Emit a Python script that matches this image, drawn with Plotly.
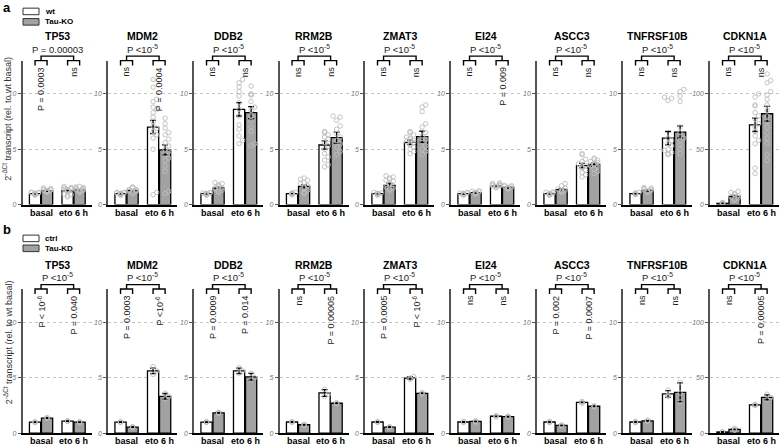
import plotly.graph_objects as go

W, H = 779, 447
FONT = "Liberation Sans, Arial, sans-serif"

# ---------------- data ----------------
genes = ["TP53", "MDM2", "DDB2", "RRM2B", "ZMAT3", "EI24", "ASCC3", "TNFRSF10B", "CDKN1A"]
conditions = ["basal", "eto 6 h"]
yticks_std = [0, 5, 10]
yticks_cdkn = [0, 50, 100]
ymax_std = 13
ymax_cdkn = 130

P5 = "P <10<sup>-5</sup>"

# row a : wt vs Tau-KO
a_groups = ["wt", "Tau-KO"]
a_wt_basal = [1.0, 1.0, 1.0, 1.0, 1.0, 0.99, 1.0, 0.99, 1.2]
a_wt_eto = [1.25, 7.0, 8.6, 5.38, 5.62, 1.68, 3.52, 6.0, 72]
a_ko_basal = [1.25, 1.25, 1.5, 1.64, 1.73, 1.08, 1.35, 1.28, 7.4]
a_ko_eto = [1.32, 4.95, 8.3, 6.05, 6.13, 1.55, 3.62, 6.55, 82]
a_wt_basal_sem = [0.03, 0.03, 0.03, 0.03, 0.03, 0.03, 0.03, 0.03, 0.15]
a_wt_eto_sem = [0.05, 0.6, 0.6, 0.38, 0.2, 0.05, 0.2, 0.6, 6]
a_ko_basal_sem = [0.04, 0.05, 0.08, 0.15, 0.2, 0.04, 0.06, 0.05, 1.0]
a_ko_eto_sem = [0.04, 0.45, 0.55, 0.5, 0.5, 0.05, 0.15, 0.55, 6.7]

a_pts_wt_basal = [
    [0.85, 0.9, 0.92, 0.95, 0.97, 1.0, 1.0, 1.02, 1.05, 1.08, 1.1, 0.95, 1.0, 0.9, 1.12],
    [0.85, 0.9, 0.95, 1.0, 1.0, 1.05, 1.1, 0.95, 1.0, 1.05, 0.9, 1.1],
    [0.85, 0.9, 0.95, 1.0, 1.0, 1.05, 1.1, 0.95, 1.0, 1.05],
    [0.9, 0.95, 1.0, 1.0, 1.05, 1.1, 0.92, 1.02, 0.98],
    [0.85, 0.9, 0.95, 1.0, 1.0, 1.05, 1.1, 0.95, 1.02],
    [0.85, 0.9, 0.95, 1.0, 1.0, 1.05, 1.1, 1.05],
    [0.85, 0.9, 0.95, 1.0, 1.0, 1.05, 1.1, 1.15],
    [0.9, 0.95, 1.0, 1.0, 1.05, 1.1, 0.95],
    [0.8, 1.0, 1.2, 1.4, 1.5, 1.7, 2.0],
]
a_pts_ko_basal = [
    [1.1, 1.15, 1.2, 1.22, 1.25, 1.28, 1.3, 1.35, 1.4, 1.45, 1.5, 1.2, 1.3, 1.25],
    [1.0, 1.1, 1.2, 1.25, 1.3, 1.35, 1.4, 1.5, 1.55, 1.6, 1.2, 1.3],
    [1.1, 1.2, 1.3, 1.4, 1.5, 1.6, 1.7, 1.8, 1.9, 2.0, 1.5],
    [1.0, 1.1, 1.3, 1.5, 1.7, 1.9, 2.0, 2.2, 2.3, 2.4, 1.6],
    [1.3, 1.4, 1.5, 1.6, 1.8, 1.9, 2.1, 2.2, 2.3, 2.4, 2.5, 2.6],
    [0.95, 1.0, 1.05, 1.1, 1.15, 1.2, 1.25, 1.1],
    [1.1, 1.2, 1.25, 1.3, 1.4, 1.5, 1.7, 1.9],
    [1.1, 1.2, 1.3, 1.35, 1.4, 1.45, 1.5, 1.55],
    [4, 5, 6, 7, 8, 9, 10, 11, 12],
]
a_pts_wt_eto = [
    [0.7, 0.85, 0.9, 0.95, 1.2, 1.25, 1.3, 1.35, 1.4, 1.45, 1.5, 1.3, 1.4, 1.55, 1.65],
    [0.9, 1.1, 5.0, 6.0, 6.3, 6.6, 6.9, 7.1, 7.5, 7.9, 8.3, 8.6, 8.8, 9.3, 9.5, 10.6, 11.3],
    [5.5, 5.8, 6.2, 6.8, 7.2, 8.0, 8.6, 9.2, 9.8, 10.2, 10.6, 11.0, 11.3],
    [3.4, 3.6, 4.0, 4.3, 4.6, 5.0, 5.3, 5.6, 5.9, 6.1, 6.3, 6.5, 6.6],
    [4.6, 4.8, 5.0, 5.2, 5.4, 5.5, 5.6, 5.7, 5.8, 5.9, 6.0, 6.1, 6.3, 6.5, 6.6],
    [1.5, 1.6, 1.65, 1.7, 1.75, 1.8, 1.85, 1.9, 1.95, 1.7],
    [2.5, 2.7, 2.9, 3.1, 3.3, 3.5, 3.7, 3.9, 4.1, 4.5, 4.6, 3.4],
    [4.5, 4.6, 4.7, 4.9, 5.0, 5.3, 5.5, 5.8, 6.0, 9.4, 9.6, 9.7],
    [28, 33, 55, 58, 62, 66, 70, 73, 77, 80, 83, 89, 90, 97, 100],
]
a_pts_ko_eto = [
    [1.1, 1.15, 1.2, 1.25, 1.3, 1.35, 1.4, 1.45, 1.5, 1.55, 1.6, 1.65, 1.3, 1.25],
    [1.0, 1.2, 3.0, 3.5, 4.0, 4.2, 4.5, 4.8, 5.0, 5.3, 5.6, 5.9, 6.3, 6.5, 6.9, 7.3, 7.8],
    [5.3, 5.5, 6.6, 7.0, 7.6, 8.0, 8.5, 8.8, 9.3, 9.9, 9.9, 10.0, 10.7],
    [4.5, 4.8, 5.2, 5.5, 5.8, 6.1, 6.4, 6.8, 7.1, 7.6, 7.9, 8.0],
    [4.5, 4.8, 5.0, 5.3, 5.6, 5.9, 6.2, 6.5, 7.0, 7.3, 8.4, 8.8, 9.0],
    [1.4, 1.45, 1.5, 1.55, 1.6, 1.65, 1.7, 1.75, 1.55],
    [2.8, 3.0, 3.2, 3.4, 3.5, 3.6, 3.7, 3.8, 3.9, 4.0, 4.1, 4.2, 3.6],
    [4.6, 5.0, 5.4, 5.8, 6.0, 6.5, 7.0, 9.3, 9.8, 10.2, 10.4],
    [40, 45, 55, 60, 65, 70, 75, 80, 85, 90, 95, 99, 102, 110, 112, 118],
]
a_p_top = ["P = 0.00003", P5, P5, P5, P5, P5, P5, P5, P5]
a_p_basal = ["P = 0.0003", "ns", "ns", "ns", "ns", "ns", "ns", "ns", "ns"]
a_p_eto = ["ns", "P = 0.0004", "ns", "ns", "ns", "P = 0.009", "ns", "ns", "ns"]

# row b : ctrl vs Tau-KD
b_groups = ["ctrl", "Tau-KD"]
b_ctrl_basal = [0.99, 0.99, 0.99, 1.0, 1.0, 1.0, 1.0, 1.0, 1.0]
b_ctrl_eto = [1.08, 5.62, 5.62, 3.62, 4.96, 1.52, 2.78, 3.53, 25.4]
b_kd_basal = [1.35, 0.54, 1.82, 0.75, 0.54, 1.05, 0.69, 1.1, 3.3]
b_kd_eto = [0.99, 3.32, 5.08, 2.69, 3.59, 1.48, 2.42, 3.68, 32.3]
b_ctrl_basal_sem = [0.03, 0.03, 0.03, 0.03, 0.03, 0.03, 0.03, 0.03, 0.1]
b_ctrl_eto_sem = [0.02, 0.25, 0.25, 0.3, 0.12, 0.04, 0.05, 0.3, 0.5]
b_kd_basal_sem = [0.04, 0.03, 0.04, 0.03, 0.03, 0.03, 0.03, 0.04, 0.6]
b_kd_eto_sem = [0.03, 0.25, 0.3, 0.04, 0.06, 0.04, 0.05, 0.85, 2.2]

b_pts_ctrl_basal = [[0.95, 0.99, 1.03], [0.96, 1.0, 1.02], [0.95, 1.0, 1.03], [0.97, 1.0, 1.03],
                    [0.96, 1.0, 1.04], [0.96, 1.0, 1.04], [0.95, 1.0, 1.05], [0.95, 1.0, 1.05], [0.8, 1.0, 1.2]]
b_pts_kd_basal = [[1.3, 1.35, 1.4], [0.5, 0.54, 0.58], [1.78, 1.82, 1.87], [0.72, 0.75, 0.78],
                  [0.5, 0.54, 0.58], [1.0, 1.05, 1.1], [0.65, 0.69, 0.73], [1.05, 1.1, 1.16], [2.5, 3.3, 4.3]]
b_pts_ctrl_eto = [[1.05, 1.08, 1.11], [5.3, 5.6, 6.0], [5.4, 5.6, 5.9], [3.3, 3.5, 3.95],
                  [4.85, 4.95, 5.1], [1.45, 1.52, 1.58], [2.7, 2.78, 2.85], [3.3, 3.4, 3.9], [24.8, 25.4, 26]]
b_pts_kd_eto = [[0.95, 0.99, 1.03], [3.1, 3.3, 3.6], [4.8, 5.0, 5.4], [2.65, 2.69, 2.73],
                [3.53, 3.59, 3.65], [1.44, 1.48, 1.52], [2.37, 2.42, 2.47], [2.8, 3.6, 4.6], [30, 32, 35]]
b_p_top = [P5] * 9
b_p_basal = ["P < 10<sup>-6</sup>", "P = 0.0003", "P = 0.0009", "ns", "P = 0.0005", "ns", "P = 0.002", "ns", "ns"]
b_p_eto = ["P = 0.040", "P <10<sup>-6</sup>", "P = 0.014", "P = 0.00005", "P < 10<sup>-6</sup>",
           "ns", "P = 0.0007", "ns", "P = 0.00005"]

ylabel = "2<sup>-ΔCt</sup> transcript (rel. to wt basal)"

# ---------------- layout helpers ----------------
left_px = [22.5, 108, 194, 279.5, 365, 451, 537, 623, 710]
panel_w = 69
XR = [-0.57, 1.55]
BARGAP = 0.26
GROUPGAP = 0.07
OFF = (1 - BARGAP) / 4
WHITE = "white"
GREY = "#a2a2a2"
PX_PER_X = panel_w / (XR[1] - XR[0])

rows = [
    dict(top=61, bottom=206, title_y=36, letter="a", letter_y=7.5, ylab_y=120, leg_y=[11.5, 22],
         groups=a_groups,
         m=[a_wt_basal, a_wt_eto, a_ko_basal, a_ko_eto],
         s=[a_wt_basal_sem, a_wt_eto_sem, a_ko_basal_sem, a_ko_eto_sem],
         p=[a_pts_wt_basal, a_pts_wt_eto, a_pts_ko_basal, a_pts_ko_eto],
         sig=[a_p_top, a_p_basal, a_p_eto]),
    dict(top=291, bottom=436, title_y=266.5, letter="b", letter_y=231, ylab_y=345, leg_y=[240, 250],
         groups=b_groups,
         m=[b_ctrl_basal, b_ctrl_eto, b_kd_basal, b_kd_eto],
         s=[b_ctrl_basal_sem, b_ctrl_eto_sem, b_kd_basal_sem, b_kd_eto_sem],
         p=[b_pts_ctrl_basal, b_pts_ctrl_eto, b_pts_kd_basal, b_pts_kd_eto],
         sig=[b_p_top, b_p_basal, b_p_eto]),
]


def py(p):
    return 1 - p / H


def swarm(values, center, px_y, half_px=5.0, diam=4.2):
    """deterministic beeswarm layout: horizontal offsets so markers don't overlap"""
    step = diam * 0.85
    cands = [0.0]
    n = 1
    while n * step <= half_px + 1e-9:
        cands += [n * step, -n * step]
        n += 1
    placed = []
    out = [center] * len(values)
    for j in sorted(range(len(values)), key=lambda q: values[q]):
        ypx = values[j] * px_y
        best, bestc = cands[0], None
        for c in cands:
            col = sum(1 for (qx, qy) in placed if (qx - c) ** 2 + (qy - ypx) ** 2 < diam ** 2)
            if col == 0:
                best = c
                break
            if bestc is None or col < bestc:
                bestc, best = col, c
        placed.append((best, ypx))
        out[j] = center + best / PX_PER_X
    return out


fig = go.Figure()
axes = {}
shapes = []
annotations = []

k = 0
for row in rows:
    hpx = row["bottom"] - row["top"]
    d = 1.0 / hpx  # one pixel in domain units
    for i, gene in enumerate(genes):
        k += 1
        xa = "x" if k == 1 else f"x{k}"
        ya = "y" if k == 1 else f"y{k}"
        xkey = "xaxis" if k == 1 else f"xaxis{k}"
        ykey = "yaxis" if k == 1 else f"yaxis{k}"
        cd = gene == "CDKN1A"
        ymax = ymax_cdkn if cd else ymax_std
        yt = yticks_cdkn if cd else yticks_std
        px_y = hpx / ymax

        axes[xkey] = dict(domain=[left_px[i] / W, (left_px[i] + panel_w) / W], range=XR, anchor=ya,
                          showline=True, linecolor="black", linewidth=1.5, ticks="",
                          showticklabels=False, showgrid=False, zeroline=False, fixedrange=True)
        axes[ykey] = dict(domain=[py(row["bottom"]), py(row["top"])], range=[0, ymax], anchor=xa,
                          showline=True, linecolor="#555", linewidth=1.5, ticks="outside", ticklen=3,
                          tickwidth=1, tickcolor="#555", tickvals=yt, ticktext=[str(v) for v in yt],
                          tickfont=dict(size=7, family=FONT, color="#777", style="italic"),
                          showgrid=True, gridcolor="#c4c4c4", griddash="dot", gridwidth=1, zeroline=False,
                          fixedrange=True)

        m, s, p = row["m"], row["s"], row["p"]
        for j, color in enumerate([WHITE, GREY]):
            mb, me = m[2 * j], m[2 * j + 1]
            sb, se = s[2 * j], s[2 * j + 1]
            fig.add_bar(x=[0, 1], y=[mb[i], me[i]], xaxis=xa, yaxis=ya, showlegend=False,
                        marker=dict(color=color, line=dict(color="black", width=1.3)),
                        error_y=dict(type="data", array=[sb[i], se[i]], color="black",
                                     thickness=1.3, width=3))
        for j, sign in enumerate([-1, 1]):
            pb, pe = p[2 * j][i], p[2 * j + 1][i]
            xs = swarm(pb, 0 + sign * OFF, px_y) + swarm(pe, 1 + sign * OFF, px_y)
            fig.add_scatter(x=xs, y=pb + pe, mode="markers", xaxis=xa, yaxis=ya, showlegend=False,
                            marker=dict(symbol="circle-open", size=4.5, color="#bdbdbd",
                                        line=dict(width=0.9)))

        # x tick labels
        for g, lab in enumerate(conditions):
            annotations.append(dict(x=g, xref=xa, y=-8 * d, yref=f"{ya} domain", text=f"<b>{lab}</b>",
                                    showarrow=False, xanchor="center", yanchor="middle",
                                    font=dict(size=9, family=FONT, color="black")))

        # significance brackets
        yref = f"{ya} domain"
        leg = 1 - 5 * d
        top = 1.0
        top2 = 1 + 4.5 * d
        for g in (0, 1):
            shapes.append(dict(type="path", xref=xa, yref=yref,
                               path=f"M {g - OFF},{leg} L {g - OFF},{top} L {g + OFF},{top} L {g + OFF},{leg}",
                               line=dict(color="black", width=1.4)))
        shapes.append(dict(type="path", xref=xa, yref=yref,
                           path=f"M 0,{top} L 0,{top2} L 1,{top2} L 1,{top}",
                           line=dict(color="black", width=1.4)))
        sig_top, sig_b, sig_e = row["sig"]
        annotations.append(dict(x=0.5, xref=xa, y=top2 + 0.5 * d, yref=yref, text=sig_top[i],
                                showarrow=False, xanchor="center", yanchor="bottom", borderpad=0,
                                font=dict(size=9.5, family=FONT, color="#222")))
        for g, txt in ((0, sig_b[i]), (1, sig_e[i])):
            annotations.append(dict(x=g, xref=xa, y=leg - 0.5 * d, yref=yref, text=txt, textangle=-90,
                                    showarrow=False, xanchor="center", yanchor="top", borderpad=0,
                                    font=dict(size=9, family=FONT, color="#222")))
        # panel title
        annotations.append(dict(x=0.5, xref=f"{xa} domain", y=py(row["title_y"]), yref="paper",
                                text=f"<b>{gene}</b>", showarrow=False, xanchor="center", yanchor="middle",
                                font=dict(size=10.5, family=FONT, color="black")))

    # row-level decorations
    annotations.append(dict(x=1 / W, xref="paper", y=py(row["letter_y"]), yref="paper",
                            text=f"<b>{row['letter']}</b>", showarrow=False, xanchor="left",
                            yanchor="middle", font=dict(size=13, family=FONT, color="black")))
    annotations.append(dict(x=7.5 / W, xref="paper", y=py(row["ylab_y"]), yref="paper", text=ylabel,
                            textangle=-90, showarrow=False, xanchor="center", yanchor="middle",
                            font=dict(size=9, family=FONT, color="#333")))
    for lab, color, cy in zip(row["groups"], [WHITE, GREY], row["leg_y"]):
        shapes.append(dict(type="rect", xref="paper", yref="paper", x0=23 / W, x1=39 / W,
                           y0=py(cy + 3.3), y1=py(cy - 3.3), fillcolor=color,
                           line=dict(color="#333", width=1)))
        annotations.append(dict(x=43 / W, xref="paper", y=py(cy), yref="paper", text=f"<b>{lab}</b>",
                                showarrow=False, xanchor="left", yanchor="middle",
                                font=dict(size=8, family=FONT, color="black")))

fig.update_layout(width=W, height=H, autosize=False, margin=dict(l=0, r=0, t=0, b=0),
                  paper_bgcolor="white", plot_bgcolor="white", hovermode=False,
                  barmode="group", bargap=BARGAP, bargroupgap=GROUPGAP,
                  font=dict(family=FONT), shapes=shapes, annotations=annotations, **axes)

fig.write_html("out.html", config={"displayModeBar": False},
               post_script="document.body.style.margin='0px';")
